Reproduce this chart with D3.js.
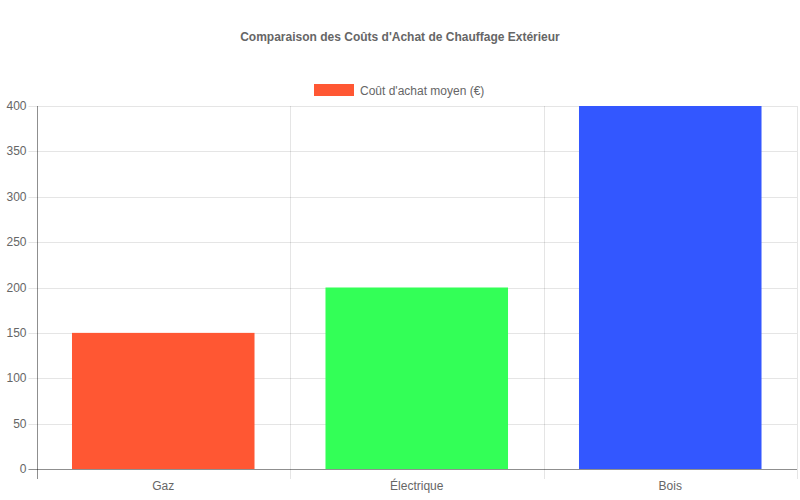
<!DOCTYPE html>
<html><head><meta charset="utf-8">
<script src="https://cdn.jsdelivr.net/npm/d3@7"></script>
<style>body{margin:0;background:#fff}svg{display:block}</style>
</head><body>
<svg id="c" width="800" height="500"></svg>
<script>
const categories = ["Gaz", "Électrique", "Bois"];
const values = [150, 200, 400];
const colors = ["#FF5733", "#33FF57", "#3357FF"];
const yTicks = [0, 50, 100, 150, 200, 250, 300, 350, 400];
const title = "Comparaison des Coûts d'Achat de Chauffage Extérieur";
const seriesName = "Coût d'achat moyen (€)";

const svg = d3.select("#c");
const font = "Liberation Sans, Arial, Helvetica, sans-serif";
const L = 36.5, R = 797, T = 106, B = 469;
const x = d3.scaleBand().domain(categories).range([L, R]).paddingInner(0).paddingOuter(0);
const y = d3.scaleLinear().domain([0, 400]).range([B, T]);

svg.append("text").attr("x", 400).attr("y", 41).attr("text-anchor", "middle")
  .attr("font-family", font).attr("font-size", 12).attr("font-weight", "bold").attr("fill", "#666").text(title);

// legend
svg.append("rect").attr("x", 314).attr("y", 84).attr("width", 40).attr("height", 12).attr("fill", colors[0]);
svg.append("text").attr("x", 360).attr("y", 94.5).attr("font-family", font).attr("font-size", 12).attr("fill", "#666").text(seriesName);

// horizontal grid
const g = svg.append("g");
yTicks.forEach(t => {
  g.append("line").attr("x1", L - 8).attr("x2", R).attr("y1", Math.round(y(t)) + 0.5).attr("y2", Math.round(y(t)) + 0.5)
    .attr("stroke", t === 0 ? "rgba(0,0,0,0.25)" : "rgba(0,0,0,0.1)");
  g.append("text").attr("x", L - 10).attr("y", y(t) + 4).attr("text-anchor", "end")
    .attr("font-family", font).attr("font-size", 12).attr("fill", "#666").text(t);
});
// vertical grid
const vlines = categories.map(c => x(c)).concat([R]);
vlines.forEach((vx, i) => {
  g.append("line").attr("x1", Math.round(vx) + 0.5).attr("x2", Math.round(vx) + 0.5).attr("y1", T).attr("y2", B + 10)
    .attr("stroke", i === 0 ? "rgba(0,0,0,0.25)" : "rgba(0,0,0,0.1)");
});

// bars
const bw = x.bandwidth() * 0.72;
svg.append("g").selectAll("rect").data(values).join("rect")
  .attr("x", (d, i) => x(categories[i]) + (x.bandwidth() - bw) / 2)
  .attr("width", bw)
  .attr("y", d => y(d)).attr("height", d => B - y(d))
  .attr("fill", (d, i) => colors[i]);

// redraw axis line on top
svg.append("line").attr("x1", L - 8).attr("x2", R).attr("y1", B + 0.5).attr("y2", B + 0.5).attr("stroke", "rgba(0,0,0,0.25)");
svg.append("line").attr("x1", Math.round(L) + 0.5).attr("x2", Math.round(L) + 0.5).attr("y1", T).attr("y2", B + 10).attr("stroke", "rgba(0,0,0,0.25)");

// x labels
categories.forEach(c => {
  svg.append("text").attr("x", x(c) + x.bandwidth() / 2).attr("y", 490).attr("text-anchor", "middle")
    .attr("font-family", font).attr("font-size", 12).attr("fill", "#666").text(c);
});
</script>
</body></html>
